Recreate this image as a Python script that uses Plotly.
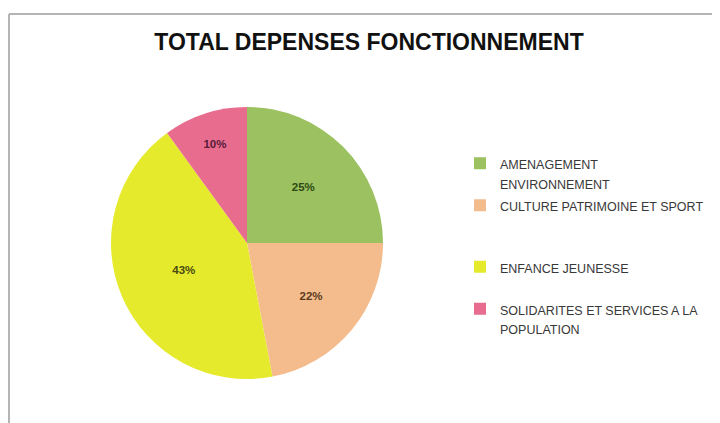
import plotly.graph_objects as go

categories = [
    "AMENAGEMENT<br>ENVIRONNEMENT",
    "CULTURE PATRIMOINE ET SPORT<br> <br> ",
    "ENFANCE JEUNESSE<br> ",
    "SOLIDARITES ET SERVICES A LA<br>POPULATION",
]
values = [25, 22, 43, 10]
colors = ["#9BC160", "#F4BC8C", "#E6EA2C", "#E76C8E"]
text_colors = ["#2E4A12", "#5A3A1E", "#4A4A10", "#5A1A38"]
title_text = "TOTAL DEPENSES FONCTIONNEMENT"

W, H = 720, 423
OFF = 8  # the page body adds an 8px margin around the figure
cx, cy, r = 247 - OFF, 243 - OFF, 136

legend_labels = ["<span style='font-size:12.5px'>" + c + "</span>" for c in categories]

fig = go.Figure(
    go.Pie(
        labels=legend_labels,
        values=values,
        sort=False,
        direction="clockwise",
        rotation=0,
        marker=dict(colors=colors, line=dict(width=0)),
        textinfo="percent",
        texttemplate="<b>%{percent:.0%}</b>",
        textposition="inside",
        insidetextorientation="horizontal",
        textfont=dict(family="Liberation Sans, Arial", size=11.5, color=text_colors),
        domain=dict(x=[(cx - r) / W, (cx + r) / W], y=[(H - cy - r) / H, (H - cy + r) / H]),
        hoverinfo="skip",
    )
)

fig.update_layout(
    width=W,
    height=H,
    margin=dict(l=0, r=0, t=0, b=0, autoexpand=False),
    paper_bgcolor="white",
    plot_bgcolor="white",
    title=dict(
        text="<b>" + title_text + "</b>",
        x=(369 - OFF) / W,
        xanchor="center",
        y=(H - (42 - OFF)) / H,
        yanchor="middle",
        font=dict(family="Liberation Sans, Arial", size=23, color="#111111"),
    ),
    legend=dict(
        x=(460 - OFF) / W,
        xanchor="left",
        y=(H - (147 - OFF)) / H,
        yanchor="top",
        valign="top",
        font=dict(family="Liberation Sans, Arial", size=15, color="#383838"),
        itemwidth=30,
        tracegroupgap=0,
    ),
    shapes=[
        dict(type="line", xref="paper", yref="paper", x0=(9 - OFF) / W, x1=1,
             y0=(H - 6) / H, y1=(H - 6) / H,
             line=dict(color="#B4B4B4", width=2)),
        dict(type="line", xref="paper", yref="paper", x0=(9 - OFF) / W, x1=(9 - OFF) / W,
             y0=0, y1=(H - 6) / H,
             line=dict(color="#B4B4B4", width=2)),
    ],
)

fig.write_html("out.html")
